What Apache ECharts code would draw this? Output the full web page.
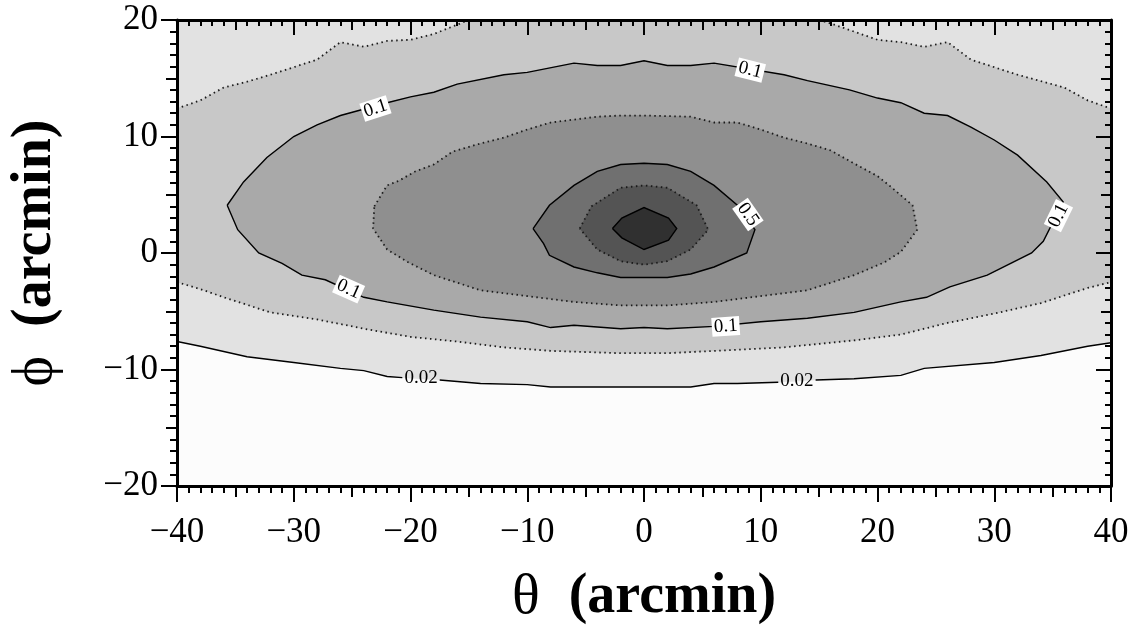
<!DOCTYPE html>
<html><head><meta charset="utf-8">
<script src="https://cdn.jsdelivr.net/npm/echarts@6/dist/echarts.min.js"></script>
<style>html,body{margin:0;padding:0;background:#fff;}#c{width:1140px;height:626px;}</style>
</head><body><div id="c"></div>
<script>
// ---- data (theta, phi in arcmin) ----
const THETA_RANGE = [-40, 40];
const PHI_RANGE = [-20, 20];
const LEVELS = ['0.02', '0.05', '0.1', '0.2', '0.5', '0.7', '0.9'];

// 0.02 contour (null = gap for inline label)
const C002 = [[-40,-7.6],[-38,-8.0],[-34,-8.9],[-30,-9.4],[-26,-9.9],[-24,-10.1],[-22,-10.6],[-20.7,-10.7],null,
  [-17.5,-10.9],[-14,-11.2],[-10,-11.3],[-8,-11.5],[-4,-11.5],[0,-11.5],[4,-11.5],[6,-11.2],[8,-11.2],[11.5,-11.1],null,
  [14.7,-10.9],[18,-10.8],[22,-10.5],[24,-9.9],[30,-9.4],[34,-8.8],[38,-8.0],[40,-7.7]];
// 0.05 contour: lower branch and two upper branches (leave through top edge)
const C005_LOW = [[-40,-2.5],[-38,-3.1],[-36,-3.8],[-32,-5.1],[-28,-5.7],[-24,-6.5],[-20,-7.2],[-16,-7.6],[-12,-8.1],
  [-8,-8.4],[-2,-8.6],[2,-8.6],[8,-8.3],[12,-8.1],[14,-7.9],[18,-7.5],[22,-7.0],[26,-6.0],[30,-5.2],[34,-4.3],[38,-3.0],[40,-2.5]];
const C005_UP_L = [[-40,12.4],[-38,13.1],[-36,14.2],[-34,14.7],[-32,15.3],[-28,16.6],[-26,18.1],[-24,17.7],[-22,18.2],
  [-20,18.3],[-18,18.8],[-16,19.6],[-15,20]];
const C005_UP_R = [[15,20],[16,19.7],[20,18.3],[22,18.1],[24,17.7],[26,18.1],[28,16.6],[32,15.3],[36,14.2],[38,13.1],[40,12.4]];
// closed contours
const C01 = [[-35.7,4.1],[-34.3,6.1],[-32.3,8.2],[-30,10.0],[-28,11.0],[-26,11.8],[-22,12.9],[-20,13.4],[-18,13.8],
  [-16,14.5],[-12,15.3],[-10,15.5],[-6,16.3],[-4,16.1],[-2,16.1],[0,16.5],[2,16.1],[4,16.1],[6,16.3],[12,15.3],[14,14.8],
  [17.6,14.0],[20,13.3],[22,12.9],[24,12.0],[26,11.8],[28,10.8],[30,9.7],[32,8.4],[34.5,6.1],[35.9,4.4],[34.2,1.0],
  [33.2,0],[29.4,-1.9],[26.2,-2.9],[24.2,-3.8],[22,-4.2],[18,-5.1],[14,-5.6],[10,-5.9],[6,-6.3],[2,-6.5],[0,-6.4],
  [-2,-6.5],[-6,-6.2],[-8,-6.4],[-10,-5.9],[-14,-5.5],[-18,-4.9],[-22,-4.2],[-24,-3.8],[-27.3,-2.3],[-29.3,-1.9],
  [-31,-0.9],[-33,0],[-34.8,2.0]];
const C02 = [[-23.1,4.0],[-22,5.8],[-21,6.2],[-19.6,7.0],[-18,7.6],[-16.4,8.7],[-14,9.4],[-12,9.9],[-10,10.6],[-8,11.2],
  [-4,11.7],[-2,11.8],[0,11.8],[4,11.7],[6,11.2],[8,11.2],[10,10.6],[12,9.9],[14,9.4],[16,8.8],[17.6,7.9],[20,6.6],
  [21,5.8],[23,4.1],[23.4,2.0],[22,0.1],[20.6,-0.8],[18,-1.9],[14,-3.2],[10,-3.7],[6,-4.2],[2,-4.5],[-2,-4.5],
  [-6,-4.2],[-10,-3.7],[-14,-3.2],[-18,-1.9],[-20.2,-0.8],[-22,0.3],[-23.2,2.1]];
const C05 = [[-9.5,2.1],[-8.1,4.1],[-6,5.8],[-4,7.0],[-2,7.6],[0,7.7],[2,7.6],[4,7.0],[6,5.8],[8,4.1],[9.5,2.0],
  [8.8,0],[6,-1.2],[4,-1.8],[2,-2.1],[0,-2.1],[-2,-2.1],[-4,-1.7],[-6,-1.2],[-8.1,-0.2],[-8.6,0.8]];
const C07 = [[-5.5,2.1],[-4.5,4.0],[-2,5.6],[0,5.8],[2,5.6],[4.5,4.1],[5.5,2.0],[4,0.3],[2,-0.7],[0,-1.0],[-2,-0.7],[-4,0.3]];
const C09 = [[-2.7,2.1],[-1.9,3.0],[0,3.9],[2.1,3.0],[2.8,2.1],[2.1,1.1],[0,0.3],[-1.9,1.3]];

// contour labels: [theta, phi, text]
const CONTOUR_LABELS = [[-23.0,12.4,'0.1'],[-25.3,-3.1,'0.1'],[7.0,-6.3,'0.1'],[9.1,15.7,'0.1'],[35.5,3.2,'0.1'],
  [8.9,3.3,'0.5'],[-19.1,-10.75,'0.02'],[13.1,-11.0,'0.02']];
const LABEL_ANGLES = [18, -24, 4, -14, 64, -55, 0, 0];

// ---- rendering ----
const SERIF = '"Liberation Serif","DejaVu Serif",serif';
const clean = a => a.filter(p => p);
const minus = v => v < 0 ? '\u2212' + Math.abs(v) : String(v);

const TOP_EDGE = [[THETA_RANGE[1], PHI_RANGE[1]], [THETA_RANGE[0], PHI_RANGE[1]]];
const FILLS = [
  { pts: clean(C002).concat(TOP_EDGE), color: '#e2e2e2' },
  { pts: C005_LOW.concat(C005_UP_R.slice().reverse(), C005_UP_L.slice().reverse()), color: '#c8c8c8' },
  { pts: C01, color: '#a9a9a9' },
  { pts: C02, color: '#8f8f8f' },
  { pts: C05, color: '#707070' },
  { pts: C07, color: '#545454' },
  { pts: C09, color: '#303030' }
];
const SOLID = { stroke: '#000', lineWidth: 1.4, fill: null };
const DOTTED = { stroke: '#1a1a1a', lineWidth: 1.8, fill: null, lineDash: [1.5, 3.5] };
const LINES = [
  { pts: C002, style: SOLID, closed: false },
  { pts: C005_LOW, style: DOTTED, closed: false },
  { pts: C005_UP_L, style: DOTTED, closed: false },
  { pts: C005_UP_R, style: DOTTED, closed: false },
  { pts: C01, style: SOLID, closed: true },
  { pts: C02, style: DOTTED, closed: true },
  { pts: C05, style: SOLID, closed: true },
  { pts: C07, style: DOTTED, closed: true },
  { pts: C09, style: SOLID, closed: true }
];

function segments(arr) {
  const out = []; let cur = [];
  arr.forEach(p => { if (p) cur.push(p); else { if (cur.length) out.push(cur); cur = []; } });
  if (cur.length) out.push(cur);
  return out;
}

function renderItem(params, api) {
  const children = [];
  const c0 = api.coord([THETA_RANGE[0], PHI_RANGE[1]]);
  const c1 = api.coord([THETA_RANGE[1], PHI_RANGE[0]]);
  children.push({ type: 'rect', shape: { x: c0[0], y: c0[1], width: c1[0]-c0[0], height: c1[1]-c0[1] },
    style: { fill: '#fcfcfc' } });
  FILLS.forEach(f => children.push({ type: 'polygon', shape: { points: f.pts.map(p => api.coord(p)) },
    style: { fill: f.color, stroke: f.color, lineWidth: 0.5 } }));
  LINES.forEach(l => {
    segments(l.pts).forEach(seg => {
      const pts = seg.map(p => api.coord(p));
      if (l.closed) pts.push(pts[0]);
      children.push({ type: 'polyline', shape: { points: pts }, style: Object.assign({}, l.style) });
    });
  });
  CONTOUR_LABELS.forEach((lb, i) => {
    const c = api.coord([lb[0], lb[1]]);
    const isSmall = lb[2] === '0.02';
    children.push({ type: 'text', x: c[0], y: c[1], rotation: LABEL_ANGLES[i] * Math.PI / 180,
      style: { text: lb[2], x: 0, y: 0, align: 'center', verticalAlign: 'middle',
        font: '19px ' + SERIF, fill: '#000',
        backgroundColor: isSmall ? null : '#fff', padding: isSmall ? 0 : [0, 2] } });
  });
  return { type: 'group', children };
}

const tickStyle = { color: '#000', width: 2 };
function axisBase(extra) {
  return Object.assign({ type: 'value', z: 10, splitLine: { show: false }, minorSplitLine: { show: false },
    axisLabel: { show: false } }, extra);
}
const titleRich = {
  t: { fontFamily: SERIF, fontSize: 58, color: '#000' },
  b: { fontFamily: SERIF, fontSize: 56, fontWeight: 'bold', color: '#000' }
};
const xAxes = [
  axisBase({ position: 'bottom', min: THETA_RANGE[0], max: THETA_RANGE[1], interval: 10,
    axisLine: { show: true, onZero: false, lineStyle: { color: '#000', width: 3 } },
    axisTick: { show: true, inside: false, length: 16, lineStyle: tickStyle },
    minorTick: { show: true, splitNumber: 10, length: 7, lineStyle: tickStyle },
    axisLabel: { show: true, margin: 29, fontFamily: SERIF, fontSize: 35, color: '#000', formatter: minus },
    name: '{t|\u03b8\u2002}{b|(arcmin)}', nameLocation: 'middle', nameGap: 83,
    nameTextStyle: { color: '#000', rich: titleRich } }),
  axisBase({ position: 'bottom', min: THETA_RANGE[0], max: THETA_RANGE[1], interval: 5,
    axisLine: { show: false, onZero: false }, axisTick: { show: true, inside: false, length: 11, lineStyle: tickStyle } }),
  axisBase({ position: 'top', min: THETA_RANGE[0], max: THETA_RANGE[1], interval: 10,
    axisLine: { show: true, onZero: false, lineStyle: { color: '#000', width: 3 } },
    axisTick: { show: true, inside: true, length: 15, lineStyle: tickStyle },
    minorTick: { show: true, splitNumber: 10, length: 6, lineStyle: tickStyle } }),
  axisBase({ position: 'top', min: THETA_RANGE[0], max: THETA_RANGE[1], interval: 5,
    axisLine: { show: false, onZero: false }, axisTick: { show: true, inside: true, length: 10, lineStyle: tickStyle } })
];
const yAxes = [
  axisBase({ position: 'left', min: PHI_RANGE[0], max: PHI_RANGE[1], interval: 10,
    axisLine: { show: true, onZero: false, lineStyle: { color: '#000', width: 3 } },
    axisTick: { show: true, inside: false, length: 16, lineStyle: tickStyle },
    minorTick: { show: true, splitNumber: 10, length: 7, lineStyle: tickStyle },
    axisLabel: { show: true, margin: 19, fontFamily: SERIF, fontSize: 35, color: '#000', formatter: minus },
    name: '{t|\u03d5\u2002}{b|(arcmin)}', nameLocation: 'middle', nameGap: 112,
    nameTextStyle: { color: '#000', rich: titleRich } }),
  axisBase({ position: 'left', min: PHI_RANGE[0], max: PHI_RANGE[1], interval: 5,
    axisLine: { show: false, onZero: false }, axisTick: { show: true, inside: false, length: 11, lineStyle: tickStyle } }),
  axisBase({ position: 'right', min: PHI_RANGE[0], max: PHI_RANGE[1], interval: 10,
    axisLine: { show: true, onZero: false, lineStyle: { color: '#000', width: 3 } },
    axisTick: { show: true, inside: true, length: 15, lineStyle: tickStyle },
    minorTick: { show: true, splitNumber: 10, length: 6, lineStyle: tickStyle } }),
  axisBase({ position: 'right', min: PHI_RANGE[0], max: PHI_RANGE[1], interval: 5,
    axisLine: { show: false, onZero: false }, axisTick: { show: true, inside: true, length: 10, lineStyle: tickStyle } })
];

const chart = echarts.init(document.getElementById('c'), null, { renderer: 'canvas' });
chart.setOption({
  animation: false,
  backgroundColor: '#fff',
  grid: { left: 177, right: 29, top: 20, bottom: 140, containLabel: false, outerBoundsMode: 'none' },
  xAxis: xAxes,
  yAxis: yAxes,
  series: [{
    type: 'custom', coordinateSystem: 'cartesian2d', xAxisIndex: 0, yAxisIndex: 0,
    clip: true, silent: true, z: 2,
    data: [[0, 0]], renderItem: renderItem
  }]
});
</script></body></html>
